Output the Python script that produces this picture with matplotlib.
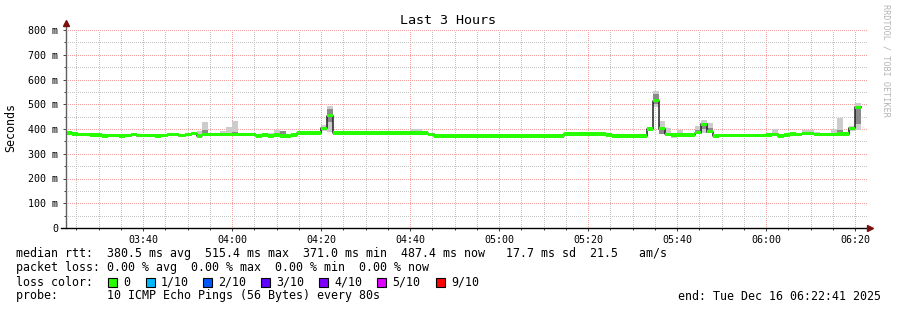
import matplotlib
matplotlib.use("Agg")
import matplotlib.pyplot as plt
from matplotlib.patches import Rectangle
from matplotlib.ticker import MultipleLocator
import numpy as np

plt.rcParams['font.family'] = ['DejaVu Sans Mono']

# time axis (seconds of day), 80 s steps
t_start = 3*3600 + 22*60 + 41      # 03:22:41
t_end = 6*3600 + 22*60 + 41        # 06:22:41
step = 80

# median rtt per step (ms)
median = [383, 379, 378, 378, 376, 376, 372, 373, 373, 371, 373, 377, 373, 373, 373, 371,
          373, 377, 377, 373, 377, 381, 372, 377,
          377, 377, 377, 377, 377, 377, 377, 377,
          372, 376, 372, 376, 372, 372, 376,
          383, 383, 383, 383,
          403, 454,
          383, 383, 383, 383, 383, 383, 383, 383, 383, 383, 383, 383, 383, 383, 383, 383,
          378,
          372, 372, 372, 372, 372, 372, 372, 372, 372, 372, 372, 372, 372, 372, 372, 372,
          372, 372, 372, 372, 372, 372,
          379, 379, 379, 379, 379, 379, 379,
          376,
          371, 371, 371, 371, 371, 371,
          400, 515, 402, 378, 376, 376, 376, 376, 385, 419, 389, 371,
          373, 373, 373, 373, 373, 373, 373, 373,
          376, 378, 372, 376, 380, 378, 381, 381, 378, 378, 378, 378, 380, 380, 403, 487]

# smoke (spread of the 10 pings) where it shows above the median band
smoke_idx = [22, 23, 26, 27, 28, 34, 35, 36, 41, 42, 43, 44, 58, 59, 98, 99, 100, 101,
             102, 103, 105, 106, 107, 108, 118, 119, 124, 125, 126, 129, 130, 132, 133]
smoke_lo = [370, 372, 375, 375, 375, 370, 372, 370, 380, 380, 390, 389, 380, 380, 395, 490,
            379, 372, 365, 370, 372, 380, 383, 383, 373, 375, 378, 378, 375, 375, 377, 390, 396]
smoke_hi = [392, 430, 392, 409, 433, 385, 396, 392, 392, 392, 416, 493, 399, 399, 405, 554,
            434, 405, 385, 396, 383, 412, 436, 423, 383, 399, 396, 396, 389, 399, 443, 412, 504]
core_lo = [372, 380, 377, 377, 377, 372, 376, 375, 383, 383, 398, 430, 385, 385, 398, 500,
           379, 375, 370, 373, 374, 383, 400, 385, 375, 377, 380, 380, 377, 377, 380, 395, 420]
core_hi = [378, 395, 380, 385, 388, 378, 382, 392, 386, 386, 408, 480, 392, 392, 402, 540,
           395, 385, 380, 385, 378, 395, 425, 405, 378, 385, 388, 388, 382, 385, 395, 405, 480]

y_ticks = [0, 100, 200, 300, 400, 500, 600, 700, 800]
y_labels = ['0', '100 m', '200 m', '300 m', '400 m', '500 m', '600 m', '700 m', '800 m']
x_labels = ['03:40', '04:00', '04:20', '04:40', '05:00', '05:20', '05:40', '06:00', '06:20']
x_first_tick = 3*3600 + 40*60

loss_labels = ['0', '1/10', '2/10', '3/10', '4/10', '5/10', '9/10']
loss_colors = ['#26ff00', '#00b8ff', '#0059ff', '#5e00ff', '#7e00ff', '#dd00ff', '#ff0000']

W, H = 897, 310
fig = plt.figure(figsize=(W/100, H/100), dpi=100)
fig.patch.set_facecolor('white')

def fx(px):
    return px / W

def fy(py):
    return 1 - py / H

ax = fig.add_axes([fx(66), fy(228), 801/W, 198/H])
ax.set_xlim(t_start, t_end)
ax.set_ylim(0, 800)
for s in ax.spines.values():
    s.set_visible(False)

t = t_start + step*np.arange(len(median))
med = np.array(median, dtype=float)

# smoke
st = t[smoke_idx]
ax.bar(st, np.array(smoke_hi) - np.array(smoke_lo), bottom=smoke_lo, width=step,
       align='edge', color='#cccccc', linewidth=0, zorder=2)
ax.bar(st, np.array(core_hi) - np.array(core_lo), bottom=core_lo, width=step,
       align='edge', color='#8a8a8a', linewidth=0, zorder=2.1)

# median line + loss coloured band
edges = np.append(t, t[-1] + step)
ax.step(edges, np.append(med, med[-1]), where='post', color='#202020', lw=1.1, zorder=3)
ax.bar(t, 14, bottom=med - 7, width=step, align='edge', color=loss_colors[0],
       linewidth=0, zorder=4)

# grid
ax.set_xticks([x_first_tick + 1200*k for k in range(len(x_labels))])
ax.set_xticklabels(x_labels)
ax.set_yticks(y_ticks)
ax.set_yticklabels(y_labels)
ax.xaxis.set_minor_locator(MultipleLocator(300))
ax.yaxis.set_minor_locator(MultipleLocator(50))
ax.grid(which='minor', color='#c4c4c4', linestyle=(0, (1, 2)), linewidth=0.72, antialiased=False)
ax.grid(which='major', color='#f4a0a0', linestyle=(0, (1, 2)), linewidth=0.72, antialiased=False)
ax.set_axisbelow(True)
ax.tick_params(which='major', length=2.5, width=0.7, color='#404040', labelsize=7.2,
               labelcolor='#000000')
ax.tick_params(axis='x', which='major', pad=2.5)
ax.tick_params(axis='y', which='major', pad=3)
ax.tick_params(which='minor', length=1.5, width=0.7, color='#404040')

# axes with arrows
ax.plot([0, 0], [0, 1.035], transform=ax.transAxes, color='#606060', lw=1.0, clip_on=False, zorder=5)
ax.plot([-0.006, 1.004], [0, 0], transform=ax.transAxes, color='#000000', lw=1.0, clip_on=False, zorder=5)
ax.plot([0], [1.035], marker='^', markersize=4, color='#7a1010', transform=ax.transAxes, clip_on=False, zorder=6)
ax.plot([1.004], [0], marker='>', markersize=4, color='#7a1010', transform=ax.transAxes, clip_on=False, zorder=6)

# texts
fig.text(fx(448), fy(20), 'Last 3 Hours', ha='center', va='center', fontsize=9.6)
fig.text(fx(11), fy(127), 'Seconds', rotation=90, ha='center', va='center', fontsize=8.4)
fig.text(fx(886), fy(4), 'RRDTOOL / TOBI OETIKER', rotation=270, ha='center', va='top',
         fontsize=6.1, color='#b4b4b4')

fs = 8.4
fig.text(fx(16), fy(254), 'median rtt:  380.5 ms avg  515.4 ms max  371.0 ms min  '
         '487.4 ms now   17.7 ms sd  21.5   am/s', ha='left', va='center', fontsize=fs)
fig.text(fx(16), fy(268), 'packet loss: 0.00 % avg  0.00 % max  0.00 % min  0.00 % now',
         ha='left', va='center', fontsize=fs)
fig.text(fx(16), fy(282), 'loss color:', ha='left', va='center', fontsize=fs)
box_x = [108, 146, 203, 261, 319, 377, 436]
for bx, lab, col in zip(box_x, loss_labels, loss_colors):
    fig.add_artist(Rectangle((fx(bx), fy(287)), 9/W, 9/H, transform=fig.transFigure,
                             facecolor=col, edgecolor='black', lw=0.8))
    fig.text(fx(bx + 15), fy(282), lab, ha='left', va='center', fontsize=fs)
fig.text(fx(16), fy(296), 'probe:       10 ICMP Echo Pings (56 Bytes) every 80s',
         ha='left', va='center', fontsize=fs)
fig.text(fx(881), fy(296), 'end: Tue Dec 16 06:22:41 2025', ha='right', va='center', fontsize=fs)

fig.savefig('out.png', dpi=100)
